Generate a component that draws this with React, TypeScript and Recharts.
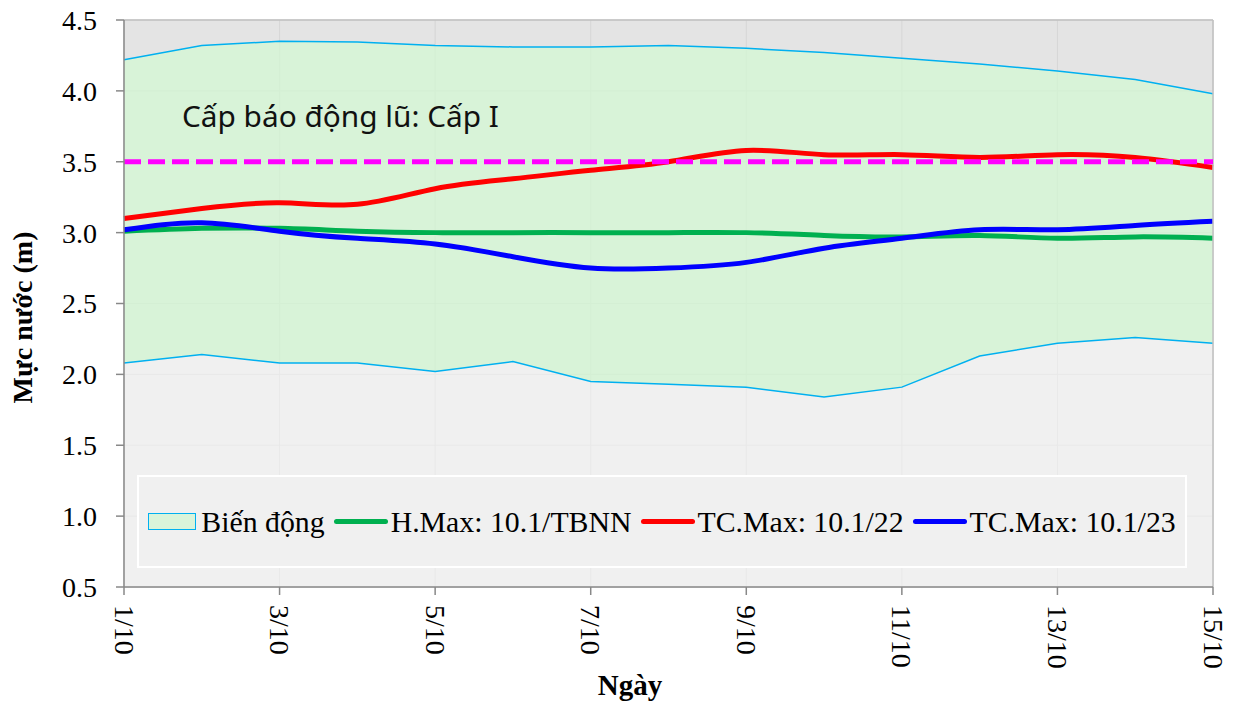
import React from 'react';
import { ComposedChart, Area, Line, XAxis, YAxis, CartesianGrid, Legend, ReferenceLine, Label } from 'recharts';

// Values (water level, m)
const days = ['1/10', '2/10', '3/10', '4/10', '5/10', '6/10', '7/10', '8/10', '9/10', '10/10', '11/10', '12/10', '13/10', '14/10', '15/10'];
const bandHigh = [4.22, 4.32, 4.35, 4.345, 4.32, 4.31, 4.31, 4.32, 4.3, 4.27, 4.23, 4.19, 4.14, 4.08, 3.98];
const bandLow = [2.08, 2.14, 2.08, 2.08, 2.02, 2.09, 1.95, 1.93, 1.91, 1.84, 1.91, 2.13, 2.22, 2.26, 2.22];
const hMaxTbnn = [3.01, 3.03, 3.03, 3.01, 3.0, 3.0, 3.0, 3.0, 3.0, 2.98, 2.97, 2.98, 2.96, 2.97, 2.96];
const tcMax22 = [3.1, 3.17, 3.21, 3.2, 3.31, 3.38, 3.44, 3.5, 3.58, 3.55, 3.55, 3.53, 3.55, 3.53, 3.46];
const tcMax23 = [3.02, 3.07, 3.01, 2.96, 2.92, 2.83, 2.75, 2.75, 2.79, 2.89, 2.96, 3.02, 3.02, 3.05, 3.08];
const yTicks = [0.5, 1.0, 1.5, 2.0, 2.5, 3.0, 3.5, 4.0, 4.5];
const alarmLevel = 3.5;

const chartData = days.map((day, i) => ({
  day,
  low: bandLow[i],
  band: [bandLow[i], bandHigh[i]],
  hmax: hMaxTbnn[i],
  tc22: tcMax22[i],
  tc23: tcMax23[i],
}));

const serif = '"Liberation Serif", "Times New Roman", serif';

const DayTick = (props: any) => {
  const { x, y, payload } = props;
  return (
    <text
      x={x}
      y={y}
      transform={`rotate(90, ${x}, ${y})`}
      textAnchor="start"
      dominantBaseline="central"
      fontFamily={serif}
      fontSize={28}
      fill="#000"
    >
      {payload.value}
    </text>
  );
};

const YTitle = (props: any) => {
  const vb = props.viewBox;
  const cx = vb.x + 22;
  const cy = vb.y + vb.height / 2 + 14;
  return (
    <text x={cx} y={cy} transform={`rotate(-90, ${cx}, ${cy})`} textAnchor="middle" dominantBaseline="central"
      fontFamily={serif} fontWeight="bold" fontSize={28} fill="#000">
      Mực nước (m)
    </text>
  );
};

const XTitle = (props: any) => {
  const vb = props.viewBox;
  return (
    <text x={vb.x + 506} y={vb.y + 108} textAnchor="middle" fontFamily={serif} fontWeight="bold" fontSize={29} fill="#000">
      Ngày
    </text>
  );
};

const AlarmLabel = (props: any) => {
  const vb = props.viewBox;
  return (
    <text x={vb.x + 58} y={vb.y - 35} fontFamily='"Noto Sans", "Open Sans", sans-serif' fontSize={29.8} fill="#111">
      Cấp báo động lũ: Cấp I
    </text>
  );
};

const renderLegend = (props: any) => {
  const items = (props.payload || []).filter((e: any) => e.type !== 'none');
  return (
    <div
      style={{
        width: '100%',
        height: '100%',
        boxSizing: 'border-box',
        background: '#f0f0f0',
        border: '2px solid #ffffff',
        display: 'flex',
        alignItems: 'center',
        justifyContent: 'center',
        fontFamily: serif,
        fontSize: 29.8,
        color: '#000',
        whiteSpace: 'nowrap',
      }}
    >
      {items.map((entry: any, i: number) => (
        <div key={i} style={{ display: 'flex', alignItems: 'center', marginLeft: i === 0 ? 0 : 9 }}>
          {entry.type === 'rect' ? (
            <span style={{ display: 'inline-block', width: 46, height: 15, background: '#daf4da', border: '1.5px solid #00b0f0', marginRight: 5 }} />
          ) : (
            <span style={{ display: 'inline-block', width: 54, height: 5, borderRadius: 3, background: entry.color, marginRight: 3 }} />
          )}
          <span>{entry.value}</span>
        </div>
      ))}
    </div>
  );
};

export default function App() {
  return (
    <div style={{ position: 'absolute', left: 0, top: 0, background: '#fff' }}>
      <ComposedChart width={1233} height={704} data={chartData} margin={{ top: 20, right: 20, bottom: 0, left: 0 }}>
        <CartesianGrid fill="#e4e4e4" stroke="#d6d6d6" strokeWidth={1} />
        <XAxis
          dataKey="day"
          scale="point"
          padding={{ left: 0, right: 0 }}
          interval={1}
          height={117}
          tickSize={8}
          tickMargin={10}
          tick={<DayTick />}
          stroke="#888888"
          strokeWidth={1.5}
        >
          <Label content={<XTitle />} />
        </XAxis>
        <YAxis
          type="number"
          domain={[0.5, 4.5]}
          ticks={yTicks}
          width={124}
          tickSize={8}
          tickMargin={19}
          tickFormatter={(v: number) => v.toFixed(1)}
          tick={{ fontFamily: serif, fontSize: 28, fill: '#000' }}
          stroke="#888888"
          strokeWidth={1.5}
          allowDataOverflow
        >
          <Label content={<YTitle />} />
        </YAxis>
        <Legend
          content={renderLegend}
          layout="horizontal"
          verticalAlign="middle"
          align="center"
          wrapperStyle={{ left: 137, top: 475, width: 1050, height: 93 }}
        />
        <Area
          dataKey="low"
          baseValue="dataMin"
          fill="#ffffff"
          fillOpacity={0.45}
          stroke="none"
          legendType="none"
          isAnimationActive={false}
        />
        <Area
          dataKey="band"
          name="Biến động"
          fill="#d3f8d3"
          fillOpacity={0.72}
          stroke="#00b0f0"
          strokeWidth={1.5}
          legendType="rect"
          isAnimationActive={false}
        />
        <Line type="natural" dataKey="hmax" name="H.Max: 10.1/TBNN" stroke="#00b050" strokeWidth={5} dot={false} legendType="line" isAnimationActive={false} />
        <Line type="natural" dataKey="tc22" name="TC.Max: 10.1/22" stroke="#ff0000" strokeWidth={5} dot={false} legendType="line" isAnimationActive={false} />
        <Line type="natural" dataKey="tc23" name="TC.Max: 10.1/23" stroke="#0000ff" strokeWidth={5} dot={false} legendType="line" isAnimationActive={false} />
        <ReferenceLine y={4.5} stroke="#c0c0c0" strokeWidth={1.5} />
        <ReferenceLine x="15/10" stroke="#c0c0c0" strokeWidth={1.5} />
        <ReferenceLine y={alarmLevel} stroke="#ff00ff" strokeWidth={5} strokeDasharray="17 7" label={<AlarmLabel />} />
      </ComposedChart>
    </div>
  );
}
